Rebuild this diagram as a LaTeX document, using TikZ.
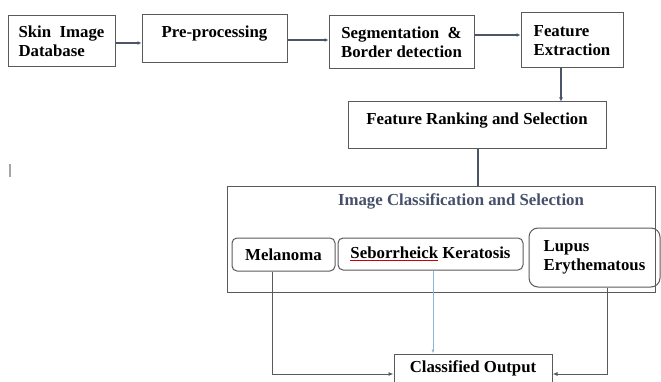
\documentclass[tikz,border=0pt]{standalone}
\usepackage{fontspec}
\setmainfont{Liberation Serif}
\usepackage{tikz}
\usetikzlibrary{calc,positioning,arrows.meta,shapes}
\definecolor{flowline}{HTML}{4A5668}
\definecolor{boxline}{HTML}{5A5A5A}
\definecolor{titleblue}{HTML}{46506A}
\definecolor{seblue}{HTML}{8FB4D8}
\tikzset{>=latex}

\begin{document}
\begin{tikzpicture}[x=1pt, y=-1pt,
    stage/.style = {rectangle, draw=boxline, line width=1pt, inner sep=0pt, font=\fontsize{16.8}{18.5}\selectfont\bfseries},
    classbox/.style = {stage, rounded corners=5pt},
    flow/.style = {draw=flowline, line width=2.6pt, -{Latex[length=4pt,width=4pt]}},
    outlink/.style = {draw=boxline, line width=0.9pt, -{Latex[length=5pt,width=4pt]}}]
    \useasboundingbox (0,0) rectangle (661,382);
    % nodes
    \node[stage, minimum width=107pt, minimum height=51pt, align=left] (db) at (61.5,41.5) {Skin \ Image\\Database};
    \node[stage, text depth=15.5pt, minimum width=145pt, minimum height=48pt] (pre) at (214.5,39) {Pre-processing};
    \node[stage, minimum width=145pt, minimum height=53pt, align=center] (seg) at (401.5,42.5) {Segmentation \ \&\\Border detection};
    \node[stage, minimum width=102pt, minimum height=55pt, align=left] (fe) at (572,40.5) {Feature\\Extraction};
    \node[stage, text depth=14pt, minimum width=258pt, minimum height=47pt] (rank) at (477,125.5) {Feature Ranking and Selection};

    \node[stage, minimum width=428pt, minimum height=105pt] (outer) at (441,239.5) {};
    \node[font=\fontsize{16.8}{18.5}\selectfont\bfseries, text=titleblue] (title) at (461,201) {Image Classification and Selection};
    \node[classbox, minimum width=103pt, minimum height=33pt] (mel) at (283.5,254.5) {Melanoma};
    \node[classbox, minimum width=185pt, minimum height=32pt] (seb) at (430.5,254)
      {{\color{red!80!black}\underline{\textcolor{black}{Seborrheick}}} Keratosis};
    \node[classbox, rounded corners=9pt, minimum width=131pt, minimum height=59pt, align=left] (lupus) at (594.5,257.5) {Lupus\\Erythematous};
    \node[stage, minimum width=158pt, minimum height=40pt] (out) at (473,374) {};
    \node[font=\fontsize{16.8}{18.5}\selectfont\bfseries] (outtext) at (473,368) {Classified Output};

    % connections
    \draw[flow] (db.east |- 0,43) -- (pre.west |- 0,43);
    \draw[flow] (pre.east |- 0,40) -- (seg.west |- 0,40);
    \draw[flow] (seg.east |- 0,35) -- (fe.west |- 0,35);
    \draw[flow] (fe.south -| 561,0) -- (rank.north -| 561,0);
    \draw[flow, -] (rank.south -| 478,0) -- (outer.north -| 478,0);
    \draw[outlink] (mel.south -| 272,0) |- (out.west);
    \draw[outlink] (lupus.south -| 607,0) |- (out.east);
    \draw[draw=seblue, line width=0.7pt, -{Latex[length=4pt,width=3pt]}] (seb.south -| 433,0) -- (out.north -| 433,0);

    % stray mark
    \draw[gray!70, line width=1.8pt] (10,164) -- (10,177);
\end{tikzpicture}
\end{document}
